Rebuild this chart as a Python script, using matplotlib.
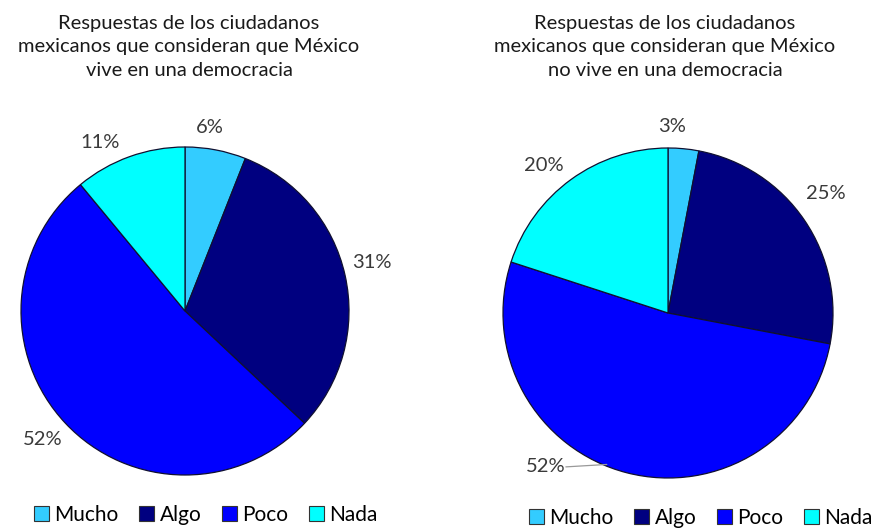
"""Two pie charts: opinion on democracy in Mexico."""
import numpy as np
import matplotlib
matplotlib.use('Agg')
import matplotlib.pyplot as plt
from matplotlib.patches import Patch

plt.rcParams['font.family'] = ['Lato', 'DejaVu Sans']

categories = ['Mucho', 'Algo', 'Poco', 'Nada']
colors = ['#33CCFF', '#000080', '#0000FF', '#00FFFF']

si_democracia = [6, 31, 52, 11]
no_democracia = [3, 25, 52, 20]

title_si = 'Respuestas de los ciudadanos\nmexicanos que consideran que México\nvive en una democracia'
title_no = 'Respuestas de los ciudadanos\nmexicanos que consideran que México\nno vive en una democracia'

W, H = 874, 529
fig = plt.figure(figsize=(W / 100, H / 100), dpi=100)


def draw_pie(cx, cy, r, values, title, tx, label_dist, label_shift, leader=None):
    ax = fig.add_axes([(cx - r) / W, (H - cy - r) / H, 2 * r / W, 2 * r / H])
    wedges, _ = ax.pie(values, colors=colors, startangle=90, counterclock=False,
                       radius=1, wedgeprops=dict(edgecolor='#101030', linewidth=0.9))
    ax.set_xlim(-1, 1)
    ax.set_ylim(-1, 1)
    ax.set_aspect('equal')
    ax.axis('off')

    for i, (w, v) in enumerate(zip(wedges, values)):
        mid = (w.theta1 + w.theta2) / 2 + label_shift[i]
        a = np.deg2rad(mid)
        pos = (label_dist[i] * np.cos(a), label_dist[i] * np.sin(a))
        if leader is not None and leader[0] == i:
            # small label sits away from its wedge, joined by a grey line
            e = np.deg2rad(leader[1])
            ax.annotate(f'{v}%', xy=(0.99 * np.cos(e), 0.99 * np.sin(e)), xytext=pos,
                        ha='center', va='center', fontsize=14.5, color='#3a3a3a',
                        annotation_clip=False,
                        arrowprops=dict(arrowstyle='-', color='#999999', lw=0.9,
                                        shrinkA=0, shrinkB=0, patchA=None,
                                        relpos=(1.0, 0.5)))
        else:
            ax.text(pos[0], pos[1], f'{v}%', ha='center', va='center',
                    fontsize=14.5, color='#3a3a3a')

    fig.text(tx / W, 1 - 15 / H, title, ha='center', va='top', fontsize=14.5,
             color='#1a1a1a', linespacing=1.45)


draw_pie(185, 311, 164, si_democracia, title_si, 189,
         label_dist=[1.13, 1.18, 1.17, 1.15], label_shift=[3, 2, -1, 7])
draw_pie(668, 313, 165, no_democracia, title_no, 665,
         label_dist=[1.13, 1.2, 1.19, 1.17], label_shift=[4, 3, -24, 4],
         leader=(2, 248))

handles = [Patch(facecolor=c, edgecolor='#333333', linewidth=0.8) for c in colors]
for lx, ly in [(206, 515), (701, 518)]:
    fig.legend(handles, categories, loc='center', bbox_to_anchor=(lx / W, 1 - ly / H),
               ncol=4, frameon=False, fontsize=15, handlelength=0.72, handleheight=0.72,
               handletextpad=0.25, columnspacing=1.0, borderaxespad=0, borderpad=0)

plt.savefig('out.png', dpi=100)
